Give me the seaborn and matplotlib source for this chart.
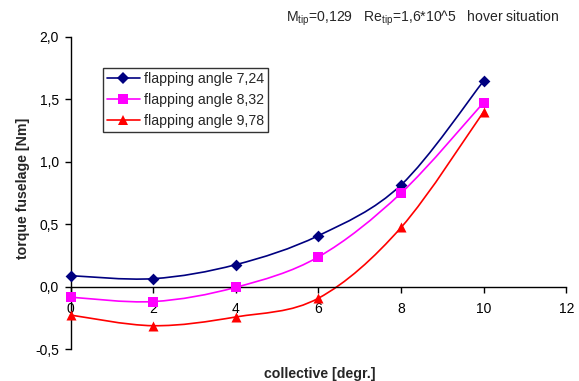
import numpy as np
import pandas as pd
import matplotlib
matplotlib.use("Agg")
import matplotlib.pyplot as plt
from matplotlib.path import Path
from matplotlib.patches import PathPatch
from matplotlib.lines import Line2D
import seaborn as sns

# data
collective = [0, 2, 4, 6, 8, 10]
torque_724 = [0.09, 0.066, 0.178, 0.41, 0.815, 1.647]
torque_832 = [-0.082, -0.117, -0.003, 0.24, 0.75, 1.474]
torque_978 = [-0.225, -0.31, -0.24, -0.09, 0.475, 1.40]
series_names = ["flapping angle 7,24", "flapping angle 8,32", "flapping angle 9,78"]
yticks = [-0.5, 0.0, 0.5, 1.0, 1.5, 2.0]
xticks = [0, 2, 4, 6, 8, 10, 12]

colors = ["#000080", "#FF00FF", "#FF0000"]
markers = ["D", "s", "^"]
msizes = [36, 46, 52]

sns.set_style("ticks")
plt.rcParams["font.family"] = ["Liberation Sans", "DejaVu Sans"]
plt.rcParams["mathtext.fontset"] = "custom"
plt.rcParams["mathtext.rm"] = "Liberation Sans"
plt.rcParams["mathtext.it"] = "Liberation Sans"

df = pd.DataFrame({
    "collective": collective * 3,
    "torque": torque_724 + torque_832 + torque_978,
    "series": sum([[n] * len(collective) for n in series_names], []),
})

fig = plt.figure(figsize=(5.79, 3.81), dpi=100)
ax = fig.add_axes([0.122, 0.0827, 0.856, 0.821])


def smooth_path(xs, ys):
    # excel-style smoothed line: cubic bezier segments (catmull-rom control points)
    pts = np.column_stack([xs, ys]).astype(float)
    n = len(pts)
    verts = [pts[0]]
    codes = [Path.MOVETO]
    for i in range(n - 1):
        p0 = pts[i - 1] if i > 0 else pts[i]
        p1 = pts[i]
        p2 = pts[i + 1]
        p3 = pts[i + 2] if i + 2 < n else pts[i + 1]
        c1 = p1 + (p2 - p0) / 6.0
        c2 = p2 - (p3 - p1) / 6.0
        verts += [c1, c2, p2]
        codes += [Path.CURVE4] * 3
    return Path(verts, codes)


handles = []
for name, c, m, s in zip(series_names, colors, markers, msizes):
    sub = df[df["series"] == name]
    ax.add_patch(PathPatch(smooth_path(sub["collective"], sub["torque"]),
                           facecolor="none", edgecolor=c, lw=1.2, zorder=2))
    sns.scatterplot(data=sub, x="collective", y="torque", marker=m, s=s,
                    color=c, edgecolor=c, linewidth=0, ax=ax, zorder=3,
                    legend=False, clip_on=False)
    handles.append(Line2D([], [], color=c, lw=1.2, marker=m,
                          markersize=np.sqrt(s), markeredgewidth=0, label=name))

ax.set_xlim(0, 12)
ax.set_ylim(-0.5, 2.0)
ax.set_xticks(xticks)
ax.set_yticks(yticks)
ax.set_yticklabels([f"{v:.1f}".replace(".", ",") for v in yticks])
ax.spines["top"].set_visible(False)
ax.spines["right"].set_visible(False)
ax.spines["bottom"].set_position(("data", 0))
for sp in ["left", "bottom"]:
    ax.spines[sp].set_color("black")
    ax.spines[sp].set_linewidth(1.0)
ax.tick_params(axis="both", direction="out", length=4, width=1.0,
               colors="black", labelsize=10)
ax.tick_params(axis="x", pad=6.5)
ax.tick_params(axis="y", pad=4.5)
ax.set_xlabel("")
ax.set_ylabel("")

fig.text(0.553, 0.018, "collective [degr.]", ha="center", va="center",
         fontsize=10.2, fontweight="bold")
fig.text(0.04, 0.505, "torque fuselage [Nm]", ha="center", va="center",
         rotation=90, fontsize=10.2, fontweight="bold")
fig.text(0.966, 0.953,
         r"M$_{\mathrm{tip}}$=0,129   Re$_{\mathrm{tip}}$=1,6*10^5   hover situation",
         ha="right", va="center", fontsize=10.1)

leg = ax.legend(handles=handles, loc="upper left",
                bbox_to_anchor=(0.065, 0.901), frameon=True, fancybox=False,
                edgecolor="black", fontsize=10.2, handlelength=2.3,
                handletextpad=0.3, borderpad=0.3, labelspacing=0.5,
                borderaxespad=0)
leg.get_frame().set_linewidth(1.0)

fig.savefig("out.png", dpi=100)
